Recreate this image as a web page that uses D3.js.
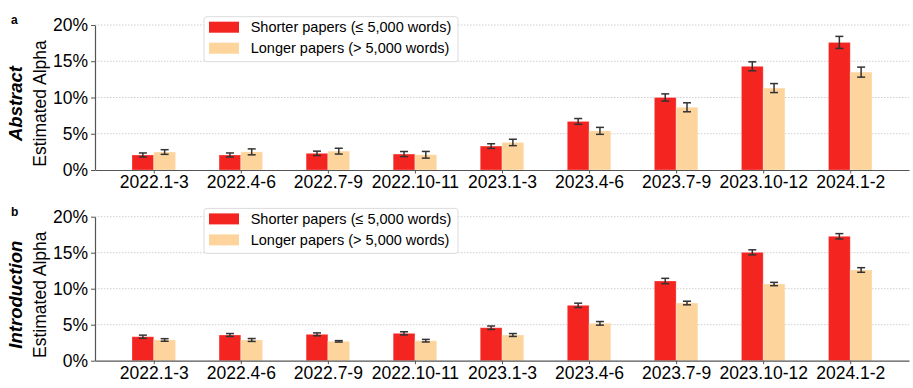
<!DOCTYPE html>
<html>
<head>
<meta charset="utf-8">
<script src="https://cdn.jsdelivr.net/npm/d3@7"></script>
<style>
  body { margin: 0; background: #fff; }
  text { font-family: "Liberation Sans", Arial, sans-serif; }
</style>
</head>
<body>
<svg id="chart" width="913" height="388"></svg>
<script>
// time periods on the x axis
var periods = ["2022.1-3", "2022.4-6", "2022.7-9", "2022.10-11", "2023.1-3", "2023.4-6", "2023.7-9", "2023.10-12", "2024.1-2"];

// abstract panel (values in %)
var absShort = [2.07, 2.07, 2.3, 2.2, 3.3, 6.7, 10.0, 14.3, 17.6];
var absShortErr = [0.28, 0.28, 0.3, 0.35, 0.32, 0.4, 0.5, 0.62, 0.83];
var absLong = [2.48, 2.5, 2.6, 2.1, 3.8, 5.4, 8.65, 11.3, 13.5];
var absLongErr = [0.32, 0.41, 0.4, 0.46, 0.44, 0.48, 0.62, 0.62, 0.69];

// introduction panel
var introShort = [3.33, 3.57, 3.66, 3.8, 4.58, 7.69, 11.07, 15.05, 17.28];
var introShortErr = [0.22, 0.2, 0.2, 0.22, 0.24, 0.3, 0.37, 0.35, 0.37];
var introLong = [2.88, 2.88, 2.69, 2.78, 3.57, 5.19, 8.01, 10.65, 12.6];
var introLongErr = [0.18, 0.2, 0.1, 0.18, 0.2, 0.25, 0.25, 0.23, 0.32];

var yTicks = [0, 5, 10, 15, 20];
var legendLabels = ["Shorter papers (\u2264 5,000 words)", "Longer papers (> 5,000 words)"];

var red = "#f42420";
var orange = "#fdd49c";

var svg = d3.select("#chart");

var x = d3.scaleLinear()
  .domain([-0.675, 8.675])
  .range([95, 909]);

function drawPanel(top, bottom, letter, section, shortVals, shortErr, longVals, longErr) {
  var y = d3.scaleLinear()
    .domain([0, 20])
    .range([bottom, top]);

  var g = svg.append("g");

  // dotted grid
  g.selectAll(".grid")
    .data(yTicks.slice(1))
    .enter().append("line")
    .attr("x1", x.range()[0])
    .attr("x2", x.range()[1])
    .attr("y1", function(d) { return y(d); })
    .attr("y2", function(d) { return y(d); })
    .attr("stroke", "#cfcfcf")
    .attr("stroke-width", 1)
    .attr("stroke-dasharray", "1.5,1.5");

  var series = [
    {vals: shortVals, err: shortErr, color: red, off: -0.25},
    {vals: longVals, err: longErr, color: orange, off: 0}
  ];

  series.forEach(function(s) {
    g.selectAll(null)
      .data(s.vals)
      .enter().append("rect")
      .attr("x", function(d, i) { return x(i + s.off); })
      .attr("width", x(0.25) - x(0))
      .attr("y", function(d) { return y(d); })
      .attr("height", function(d) { return y(0) - y(d); })
      .style("fill", s.color)
      .attr("stroke", "rgba(255,255,255,0.35)")
      .attr("stroke-width", 0.8);

    // error bars
    var eb = g.selectAll(null)
      .data(s.vals)
      .enter().append("g")
      .attr("stroke", "#333")
      .attr("stroke-width", 1.5);
    eb.append("line")
      .attr("x1", function(d, i) { return x(i + s.off + 0.125); })
      .attr("x2", function(d, i) { return x(i + s.off + 0.125); })
      .attr("y1", function(d, i) { return y(d - s.err[i]); })
      .attr("y2", function(d, i) { return y(d + s.err[i]); });
    eb.append("line")
      .attr("x1", function(d, i) { return x(i + s.off + 0.125) - 4; })
      .attr("x2", function(d, i) { return x(i + s.off + 0.125) + 4; })
      .attr("y1", function(d, i) { return y(d - s.err[i]); })
      .attr("y2", function(d, i) { return y(d - s.err[i]); });
    eb.append("line")
      .attr("x1", function(d, i) { return x(i + s.off + 0.125) - 4; })
      .attr("x2", function(d, i) { return x(i + s.off + 0.125) + 4; })
      .attr("y1", function(d, i) { return y(d + s.err[i]); })
      .attr("y2", function(d, i) { return y(d + s.err[i]); });
  });

  // axes
  var yAxis = d3.axisLeft(y)
    .tickValues(yTicks)
    .tickFormat(function(d) { return d + "%"; })
    .tickSize(4)
    .tickSizeOuter(0)
    .tickPadding(3);
  var ya = g.append("g")
    .attr("transform", "translate(" + x.range()[0] + ",0)")
    .call(yAxis);

  var xAxis = d3.axisBottom(x)
    .tickValues(d3.range(periods.length))
    .tickFormat(function(i) { return periods[i]; })
    .tickSize(3.5)
    .tickSizeOuter(0)
    .tickPadding(2);
  var xa = g.append("g")
    .attr("transform", "translate(0," + bottom + ")")
    .call(xAxis);

  [ya, xa].forEach(function(a) {
    a.select(".domain").attr("stroke", "#555").attr("stroke-width", 1.2);
    a.selectAll(".tick line").attr("stroke", "#555");
    a.selectAll(".tick text")
      .attr("fill", "#000")
      .style("font-size", "17.5px")
      .style("font-family", "'Liberation Sans', Arial, sans-serif");
  });

  // y labels
  var mid = (top + bottom) / 2 + 6;
  g.append("text")
    .attr("transform", "translate(46," + mid + ") rotate(-90)")
    .attr("text-anchor", "middle")
    .style("font-size", "17.5px")
    .text("Estimated Alpha");
  g.append("text")
    .attr("transform", "translate(22," + mid + ") rotate(-90)")
    .attr("text-anchor", "middle")
    .style("font-size", "18.5px")
    .style("font-weight", "bold")
    .style("font-style", "italic")
    .text(section);

  // panel letter
  g.append("text")
    .attr("x", 11)
    .attr("y", top - 1)
    .style("font-size", "12px")
    .style("font-weight", "bold")
    .text(letter);

  // legend
  var lg = g.append("g").attr("transform", "translate(204," + (top - 8.3) + ")");
  lg.append("rect")
    .attr("width", 254)
    .attr("height", 45)
    .attr("rx", 3)
    .attr("fill", "rgba(255,255,255,0.85)")
    .attr("stroke", "#dcdcdc");
  var items = lg.selectAll(".item")
    .data(legendLabels)
    .enter().append("g")
    .attr("transform", function(d, i) { return "translate(5," + (5 + i * 21) + ")"; });
  items.append("rect")
    .attr("width", 30)
    .attr("height", 11)
    .style("fill", function(d, i) { return i == 0 ? red : orange; });
  items.append("text")
    .attr("x", 41.7)
    .attr("y", 5.5)
    .attr("dy", "0.35em")
    .style("font-size", "14.5px")
    .text(function(d) { return d; });
}

drawPanel(25, 170, "a", "Abstract", absShort, absShortErr, absLong, absLongErr);
drawPanel(216.7, 360.7, "b", "Introduction", introShort, introShortErr, introLong, introLongErr);
</script>
</body>
</html>
